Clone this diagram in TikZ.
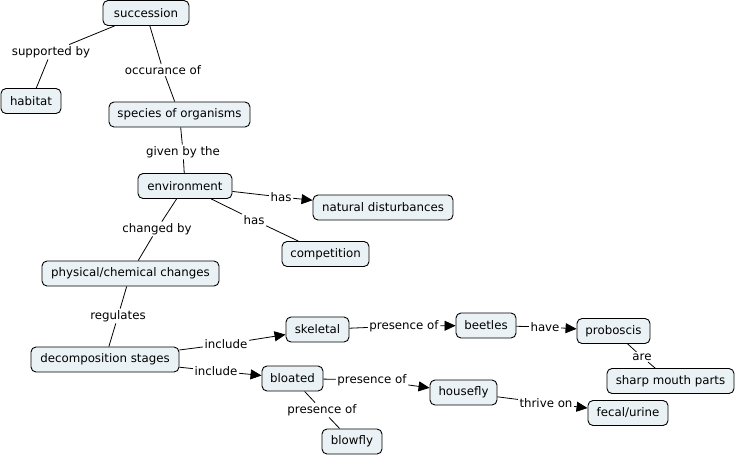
\documentclass[tikz,border=0pt]{standalone}
\usepackage{fontspec}
\setmainfont{DejaVu Sans}
\usetikzlibrary{arrows.meta}
\definecolor{nodefill}{HTML}{EBF2F5}
\tikzset{
  concept/.style={draw=black, line width=0.9pt, fill=nodefill, rounded corners=5pt, inner xsep=5pt, inner ysep=0pt, minimum height=25pt, font=\fontsize{11.8}{13}\selectfont},
  lbl/.style={inner sep=1.5pt, font=\fontsize{11.8}{13}\selectfont},
  link/.style={line width=0.8pt, black},
  arr/.style={link, -{Triangle[length=11pt,width=10pt]}}
}
\begin{document}
\begin{tikzpicture}[x=1pt,y=-1pt]
\useasboundingbox (0,0) rectangle (737,459);
% concepts
\node[concept, minimum width=86pt] (succ) at (146,13) {succession};
\node[concept, minimum width=60pt] (hab) at (31,101) {habitat};
\node[concept, minimum width=141pt] (spec) at (179.5,114.5) {species of organisms};
\node[concept, minimum width=94pt] (env) at (185,186) {environment};
\node[concept, minimum width=140pt] (nat) at (383,207.5) {natural disturbances};
\node[concept, minimum width=87pt] (comp) at (325.5,254) {competition};
\node[concept, minimum width=177pt] (phys) at (130.5,273.5) {physical/chemical changes};
\node[concept, minimum width=148pt] (decomp) at (105,359.5) {decomposition stages};
\node[concept, minimum width=63pt] (skel) at (317.5,329.5) {skeletal};
\node[concept, minimum width=60pt] (beet) at (486,325.5) {beetles};
\node[concept, minimum width=73pt] (prob) at (613.5,331) {proboscis};
\node[concept, minimum width=127pt] (sharp) at (670.5,381) {sharp mouth parts};
\node[concept, minimum width=61pt] (bloat) at (292.5,378.5) {bloated};
\node[concept, minimum width=67pt] (house) at (463.5,392.5) {housefly};
\node[concept, minimum width=80pt] (fecal) at (628,413) {fecal/urine};
\node[concept, minimum width=60pt] (blow) at (352,441.5) {blowfly};
% labels
\node[lbl] (l1) at (51,52) {supported by};
\node[lbl] (l2) at (163,70) {occurance of};
\node[lbl] (l3) at (183,152) {given by the};
\node[lbl] (l4) at (281,197) {has};
\node[lbl] (l5) at (254,220) {has};
\node[lbl] (l6) at (157,229) {changed by};
\node[lbl] (l7) at (118,316) {regulates};
\node[lbl] (l8) at (226,344) {include};
\node[lbl] (l9) at (216,371) {include};
\node[lbl] (l10) at (404,326) {presence of};
\node[lbl] (l11) at (545,327) {have};
\node[lbl] (l12) at (642,357) {are};
\node[lbl] (l13) at (372,380) {presence of};
\node[lbl] (l14) at (546,403) {thrive on};
\node[lbl] (l15) at (322,410) {presence of};
% connectors
\draw[link] (succ) -- (l1); \draw[link] (l1) -- (hab);
\draw[link] (succ) -- (l2); \draw[link] (l2) -- (spec);
\draw[link] (spec) -- (l3); \draw[link] (l3) -- (env);
\draw[link] (env) -- (l4); \draw[arr] (l4) -- (nat);
\draw[link] (env) -- (l5); \draw[link] (l5) -- (comp);
\draw[link] (env) -- (l6); \draw[link] (l6) -- (phys);
\draw[link] (phys) -- (l7); \draw[link] (l7) -- (decomp);
\draw[link] (decomp) -- (l8); \draw[arr] (l8) -- (skel);
\draw[link] (decomp) -- (l9); \draw[arr] (l9) -- (bloat);
\draw[link] (skel) -- (l10); \draw[arr] (l10) -- (beet);
\draw[link] (beet) -- (l11); \draw[arr] (l11) -- (prob);
\draw[link] (prob) -- (l12); \draw[link] (l12) -- (sharp);
\draw[link] (bloat) -- (l13); \draw[arr] (l13) -- (house);
\draw[link] (house) -- (l14); \draw[arr] (l14) -- (fecal);
\draw[link] (bloat) -- (l15); \draw[link] (l15) -- (blow);
\end{tikzpicture}
\end{document}
